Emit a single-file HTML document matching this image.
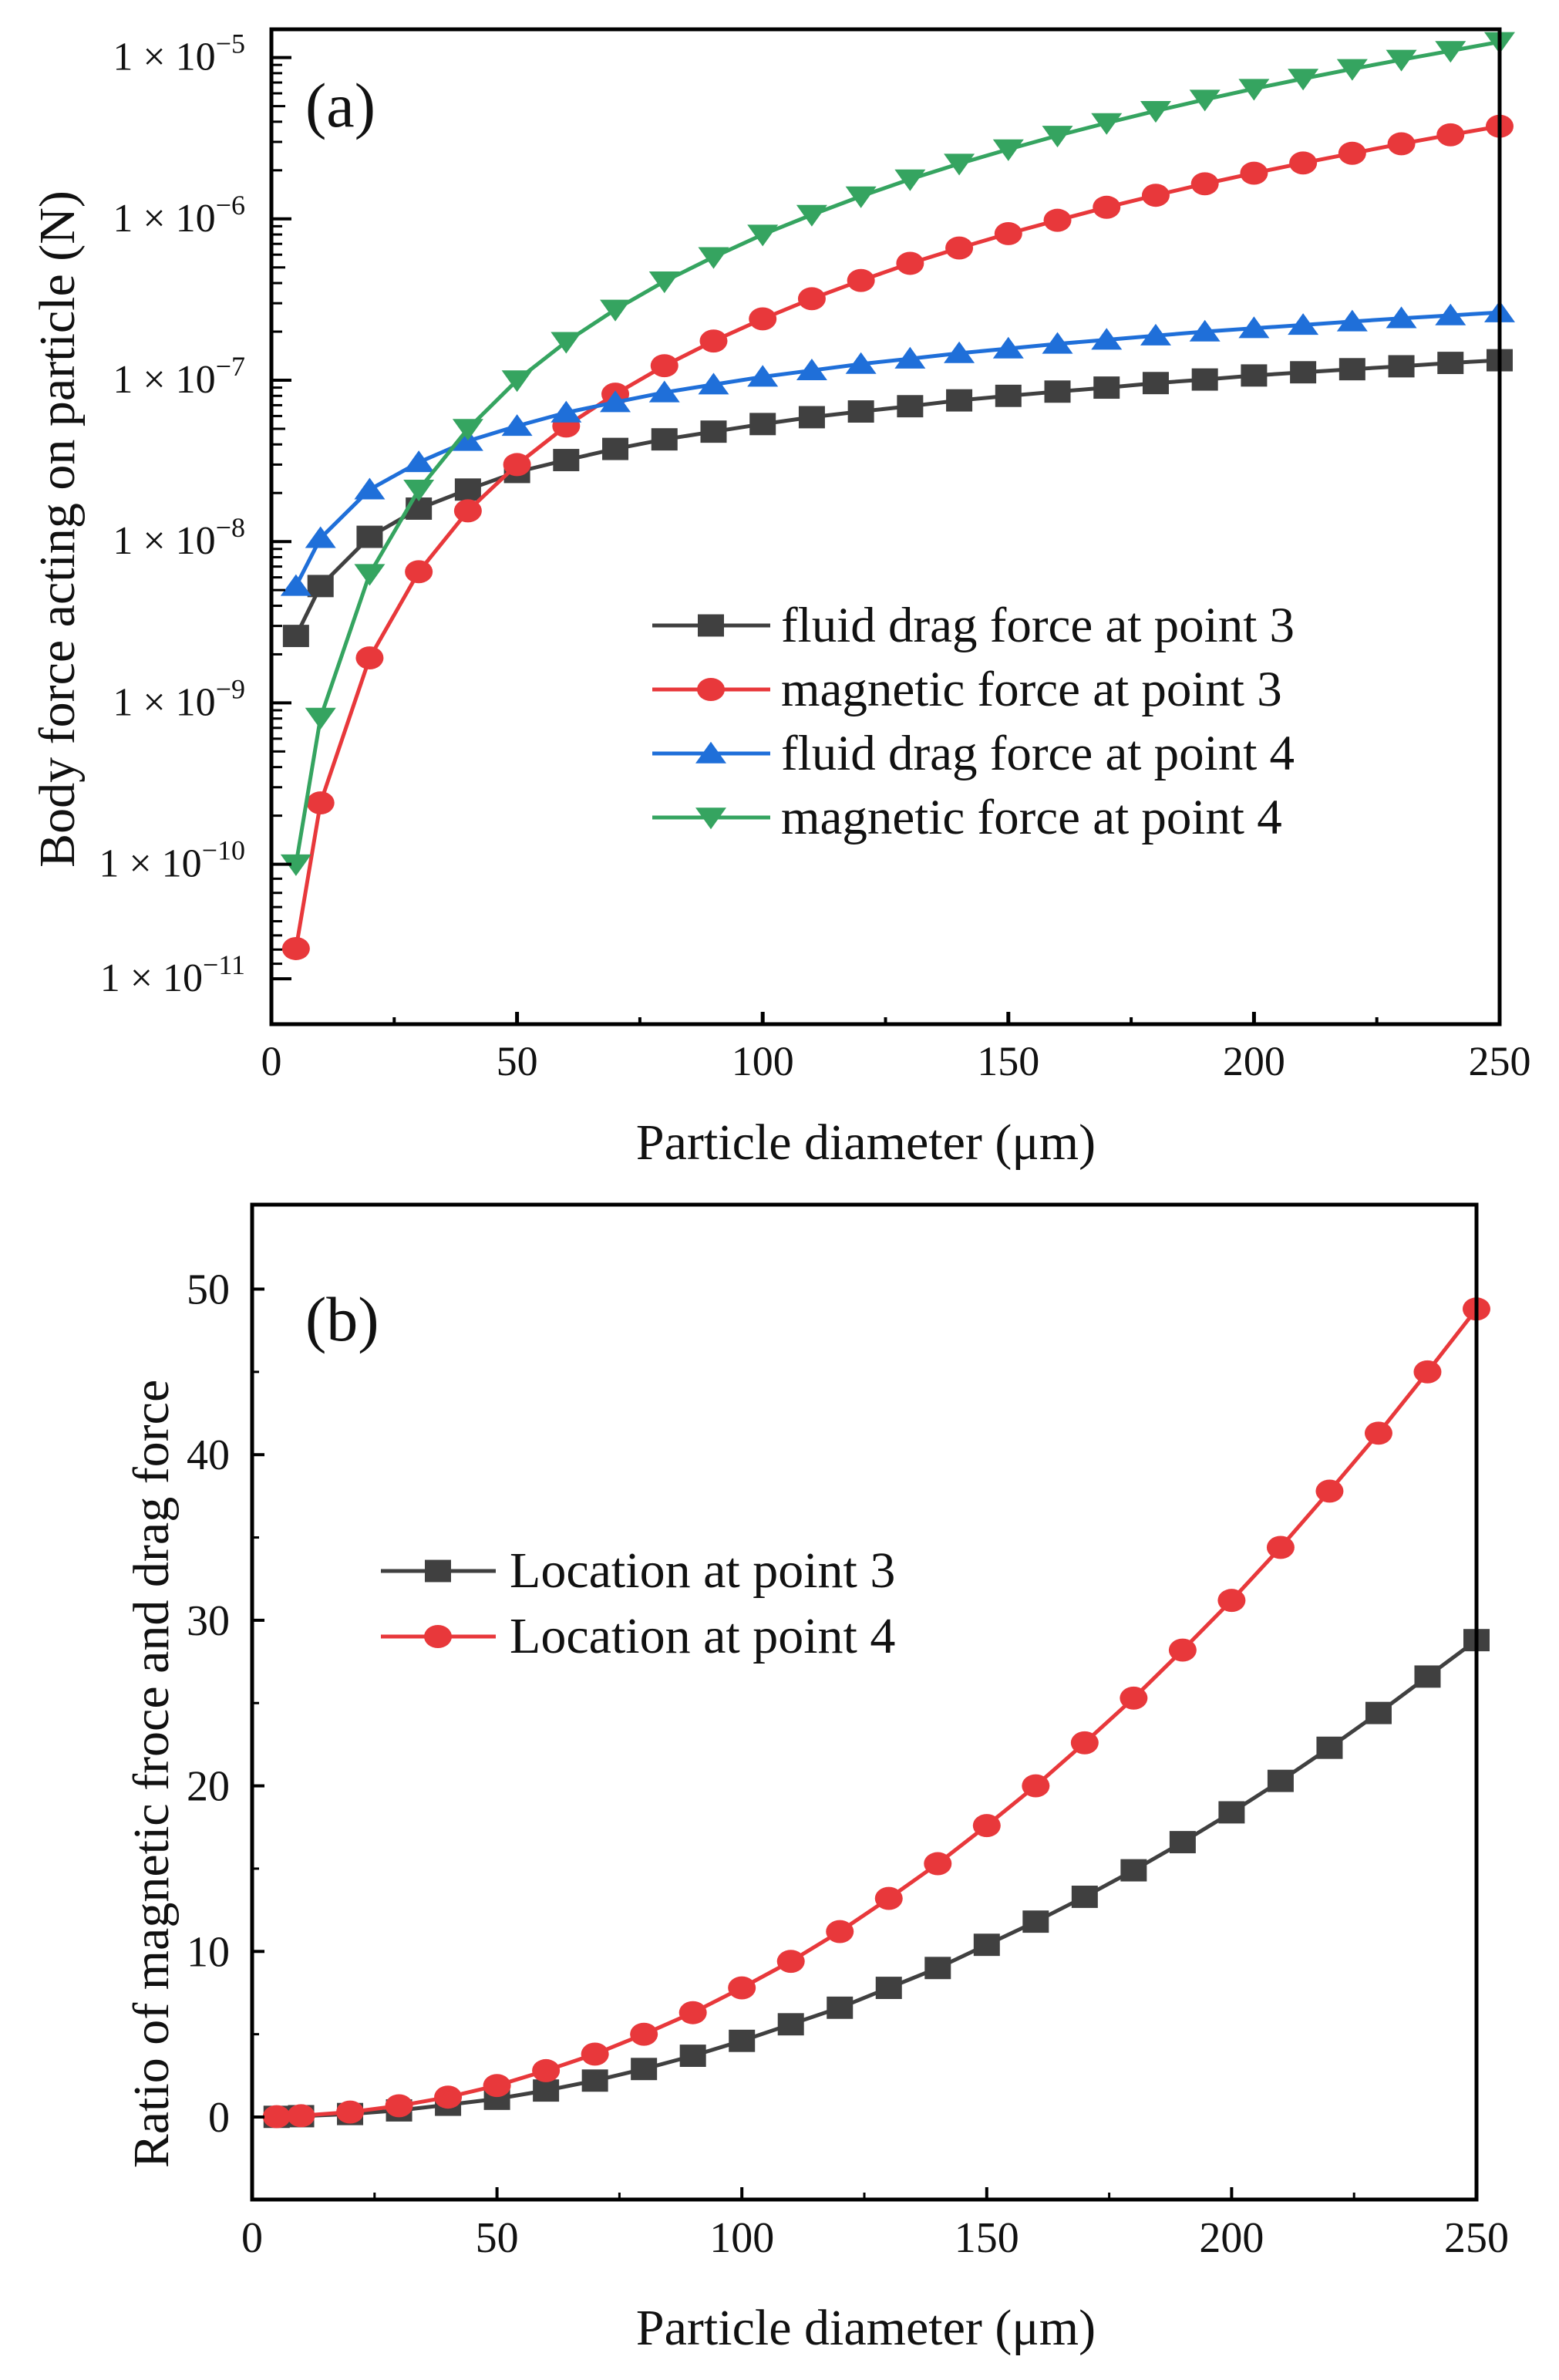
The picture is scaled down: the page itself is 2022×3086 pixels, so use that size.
<!DOCTYPE html>
<html><head><meta charset="utf-8"><style>
html,body{margin:0;padding:0;background:#fff}
svg{display:block}
text{font-family:"Liberation Serif",serif;fill:#111}
</style></head><body>
<svg id="fig" width="2022" height="3086" viewBox="0 0 2022 3086" xmlns="http://www.w3.org/2000/svg"></svg>
<script>
// ---------- Data: panel (a) ----------
const diam = [5,10,20,30,40,50,60,70,80,90,100,110,120,130,140,150,160,170,180,190,200,210,220,230,240,250];
const dragP3 = [2.6e-9,5.3e-9,1.07e-8,1.6e-8,2.1e-8,2.7e-8,3.2e-8,3.75e-8,4.3e-8,4.8e-8,5.35e-8,5.9e-8,6.4e-8,6.9e-8,7.5e-8,8.0e-8,8.5e-8,9.0e-8,9.6e-8,1.01e-7,1.07e-7,1.12e-7,1.17e-7,1.22e-7,1.28e-7,1.33e-7];
const magP3 = [3.0e-11,2.4e-10,1.9e-9,6.5e-9,1.55e-8,3.0e-8,5.2e-8,8.2e-8,1.23e-7,1.75e-7,2.4e-7,3.2e-7,4.15e-7,5.3e-7,6.6e-7,8.1e-7,9.8e-7,1.18e-6,1.4e-6,1.65e-6,1.92e-6,2.22e-6,2.55e-6,2.92e-6,3.32e-6,3.75e-6];
const dragP4 = [5.3e-9,1.05e-8,2.1e-8,3.1e-8,4.2e-8,5.2e-8,6.3e-8,7.3e-8,8.4e-8,9.4e-8,1.05e-7,1.15e-7,1.26e-7,1.36e-7,1.47e-7,1.57e-7,1.68e-7,1.78e-7,1.89e-7,2.0e-7,2.1e-7,2.2e-7,2.31e-7,2.42e-7,2.52e-7,2.63e-7];
const magP4 = [1.0e-10,8.1e-10,6.3e-9,2.1e-8,5.0e-8,1.0e-7,1.73e-7,2.74e-7,4.1e-7,5.8e-7,8.0e-7,1.06e-6,1.38e-6,1.76e-6,2.2e-6,2.7e-6,3.28e-6,3.93e-6,4.67e-6,5.49e-6,6.4e-6,7.4e-6,8.5e-6,9.7e-6,1.1e-5,1.25e-5];
const aXTicks = [0,50,100,150,200,250];
const aYTickExp = [-5,-6,-7,-8,-9,-10,-11];
const aYTickVals = [1e-5,1e-6,1e-7,1e-8,1e-9,1e-10,1.95e-11];
const aLegend = ["fluid drag force at point 3","magnetic force at point 3","fluid drag force at point 4","magnetic force at point 4"];
// ---------- Data: panel (b) ----------
const ratioP3 = [0.01,0.05,0.18,0.4,0.74,1.1,1.6,2.2,2.9,3.7,4.6,5.6,6.6,7.8,9.0,10.4,11.8,13.3,14.9,16.6,18.4,20.3,22.3,24.4,26.6,28.8];
const ratioP4 = [0.02,0.08,0.3,0.68,1.2,1.9,2.8,3.8,5.0,6.3,7.8,9.4,11.2,13.2,15.3,17.6,20.0,22.6,25.3,28.2,31.2,34.4,37.8,41.3,45.0,48.8];
const bXTicks = [0,50,100,150,200,250];
const bYTicks = [0,10,20,30,40,50];
const bLegend = ["Location at point 3","Location at point 4"];

const NS="http://www.w3.org/2000/svg";
const svg=document.getElementById('fig');
function mk(tag,attrs,parent){const e=document.createElementNS(NS,tag);for(const k in attrs)e.setAttribute(k,attrs[k]);(parent||svg).appendChild(e);return e;}
const C={k:'#404040',r:'#e8383b',b:'#1f6fd9',g:'#35a460'};

const A={l:352,r:1945,t:38,b:1328};
const ax=v=>A.l+(v-0)/250*(A.r-A.l);
const ay=v=>74.6+(-5-Math.log10(v))*209.2;
const B={l:327,r:1915,t:1562,b:2852};
const bx=v=>B.l+v/250*(B.r-B.l);
const by=v=>2745-v*21.47;

function marker(shape,x,y,color,g){
  const s=17;let e;
  if(shape==='sq') e=mk('rect',{x:x-s,y:y-s*0.85,width:2*s,height:1.7*s,fill:color},g);
  else if(shape==='ci') e=mk('ellipse',{cx:x,cy:y,rx:s+1,ry:s*0.88,fill:color},g);
  else if(shape==='up') e=mk('polygon',{points:`${x-s-3},${y+s*0.75} ${x+s+3},${y+s*0.75} ${x},${y-s*0.9}`,fill:color},g);
  else e=mk('polygon',{points:`${x-s-3},${y-s*0.75} ${x+s+3},${y-s*0.75} ${x},${y+s*0.9}`,fill:color},g);
  
  
}
function series(name,xs,ys,fx,fy,color,shape){
  const g=mk('g',{});
  
  
  const pts=xs.map((x,i)=>fx(x).toFixed(1)+','+fy(ys[i]).toFixed(1)).join(' ');
  const pl=mk('polyline',{points:pts,fill:'none',stroke:color,'stroke-width':5,'stroke-linejoin':'round'},g);
  
  
  xs.forEach((x,i)=>marker(shape,fx(x),fy(ys[i]),color,g));
}
function txt(s,x,y,size,anchor,parent){const t=mk('text',{x:x,y:y,'font-size':size,'text-anchor':anchor||'start'},parent);t.textContent=s;return t;}

const defs=mk('defs',{});
const ca=mk('clipPath',{id:'ca'},defs);mk('rect',{x:A.l,y:A.t-20,width:A.r-A.l+20,height:A.b-A.t+20},ca);
const cb=mk('clipPath',{id:'cb'},defs);mk('rect',{x:B.l,y:B.t,width:B.r-B.l+20,height:B.b-B.t},cb);

// ===== Panel (a)
const ga=mk('g',{'clip-path':'url(#ca)'});


const sa=[['drag-point3-series',dragP3,C.k,'sq'],['magnetic-point3-series',magP3,C.r,'ci'],['drag-point4-series',dragP4,C.b,'up'],['magnetic-point4-series',magP4,C.g,'dn']];
sa.forEach(s=>{series(s[0],diam,s[1],ax,ay,s[2],s[3]);ga.appendChild(svg.lastChild);});
const fa=mk('rect',{x:A.l,y:A.t,width:A.r-A.l,height:A.b-A.t,fill:'none',stroke:'#000','stroke-width':5});


aXTicks.forEach(v=>{mk('line',{x1:ax(v),x2:ax(v),y1:A.b,y2:A.b-16,stroke:'#000','stroke-width':5});
  const t=txt(String(v),ax(v),A.b+66,54,'middle');});
[25,75,125,175,225].forEach(v=>mk('line',{x1:ax(v),x2:ax(v),y1:A.b,y2:A.b-9,stroke:'#000','stroke-width':4}));
aYTickVals.forEach((v,i)=>{const y=ay(v);mk('line',{x1:A.l,x2:A.l+26,y1:y,y2:y,stroke:'#000','stroke-width':4});
  const t=mk('text',{x:318,y:y+16,'font-size':52,'text-anchor':'end'});
  
  
  t.innerHTML='1 × 10<tspan dy="-22" font-size="36">−'+(-aYTickExp[i])+'</tspan>';
  if(i<aYTickVals.length-2){for(let m=2;m<=9;m++){const ym=ay(v*m/10);mk('line',{x1:A.l,x2:A.l+(m===5?18:14),y1:ym,y2:ym,stroke:'#000','stroke-width':3});}}
});
for(let m=3;m<=9;m++){const ym=1121+(m-2)*(1268-1121)/8;mk('line',{x1:A.l,x2:A.l+14,y1:ym,y2:ym,stroke:'#000','stroke-width':3});}
let t=txt('(a)',396,164,82,'start');
t=txt('Particle diameter (μm)',1123,1503,66,'middle');
t=mk('text',{x:0,y:0,'font-size':66,'text-anchor':'middle',transform:'translate(96,686) rotate(-90)'});t.textContent='Body force acting on particle (N)';

const la=mk('g',{});
aLegend.forEach((s,i)=>{const y=811+i*83;const g=mk('g',{},la);
  
  mk('line',{x1:846,x2:999,y1:y,y2:y,stroke:sa[i][2],'stroke-width':5},g);marker(sa[i][3],922,y,sa[i][2],g);
  txt(s,1013,y+21,65,'start',g);});

// ===== Panel (b)
const gb=mk('g',{'clip-path':'url(#cb)'});


series('ratio-point3-series',diam,ratioP3,bx,by,C.k,'sq');gb.appendChild(svg.lastChild);
series('ratio-point4-series',diam,ratioP4,bx,by,C.r,'ci');gb.appendChild(svg.lastChild);
const fb=mk('rect',{x:B.l,y:B.t,width:B.r-B.l,height:B.b-B.t,fill:'none',stroke:'#000','stroke-width':5});


bXTicks.forEach(v=>{mk('line',{x1:bx(v),x2:bx(v),y1:B.b,y2:B.b-16,stroke:'#000','stroke-width':4});
  const t=txt(String(v),bx(v),B.b+68,56,'middle');});
[25,75,125,175,225].forEach(v=>mk('line',{x1:bx(v),x2:bx(v),y1:B.b,y2:B.b-9,stroke:'#000','stroke-width':3}));
bYTicks.forEach(v=>{mk('line',{x1:B.l,x2:B.l+16,y1:by(v),y2:by(v),stroke:'#000','stroke-width':4});
  const t=txt(String(v),298,by(v)+19,56,'end');});
[5,15,25,35,45].forEach(v=>mk('line',{x1:B.l,x2:B.l+9,y1:by(v),y2:by(v),stroke:'#000','stroke-width':3}));
t=txt('(b)',396,1738,82,'start');
t=txt('Particle diameter (μm)',1123,3040,66,'middle');
t=mk('text',{x:0,y:0,'font-size':66,'text-anchor':'middle',transform:'translate(218,2300) rotate(-90)'});t.textContent='Ratio of magnetic froce and drag force';

const lb=mk('g',{});
bLegend.forEach((s,i)=>{const y=2037+i*85;const col=i?C.r:C.k;const g=mk('g',{},lb);
  
  mk('line',{x1:494,x2:643,y1:y,y2:y,stroke:col,'stroke-width':5},g);marker(i?'ci':'sq',568,y,col,g);
  txt(s,661,y+21,66,'start',g);});
</script>
</body></html>
